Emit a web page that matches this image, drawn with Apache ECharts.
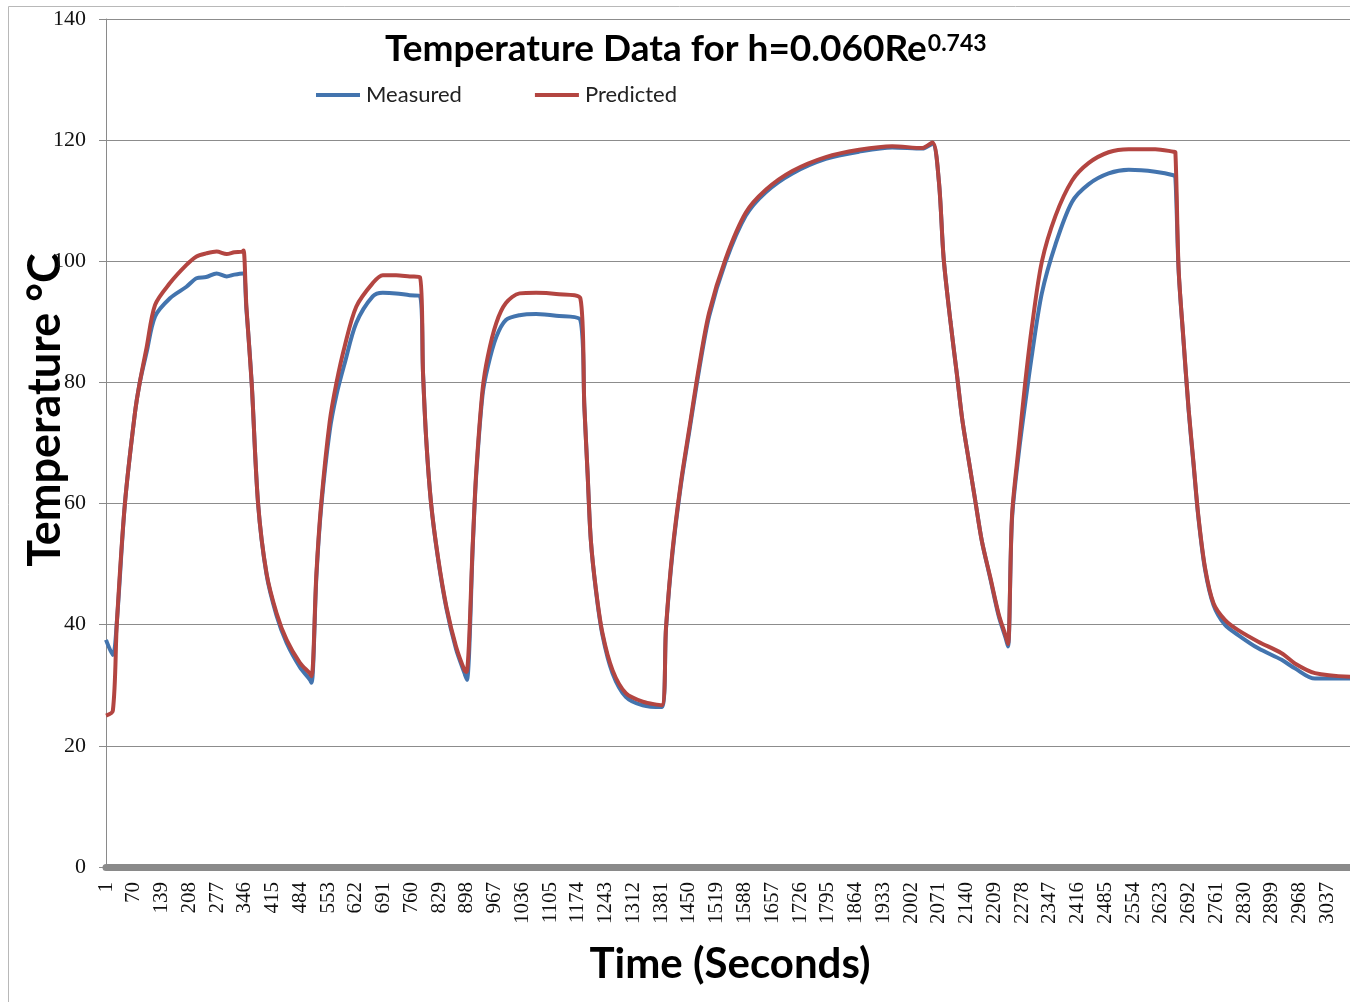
<!DOCTYPE html>
<html>
<head>
<meta charset="utf-8">
<script src="https://cdn.jsdelivr.net/npm/echarts@6/dist/echarts.min.js"></script>
<style>
html,body{margin:0;padding:0;background:#fff;}
#chart{width:1350px;height:1002px;}
</style>
</head>
<body>
<div id="chart"></div>
<script>
// number of one-second categories visible on the time axis
const categoryCount = 3093;
const categories = Array.from({length: categoryCount}, (_, i) => String(i + 1));

// Measured (seconds, °C)
const measuredT = [1, 18, 28, 48, 73, 85, 102, 123, 160, 201, 226, 250, 276, 301, 320, 341,
  350, 363, 379, 400, 425, 450, 483, 507, 512,
  524, 536, 557, 574, 594, 623, 664, 689, 722, 756, 781,
  789, 797, 809, 826, 847, 871, 892, 898,
  913, 921, 937, 950, 971, 995, 1029, 1070, 1120, 1180,
  1190, 1198, 1206, 1219, 1235, 1260, 1293, 1335, 1382,
  1393, 1409, 1430, 1451, 1475, 1500, 1541, 1591, 1641, 1707, 1790, 1873, 1955, 2030, 2055,
  2071, 2083, 2100, 2116, 2129, 2145, 2162, 2178, 2199, 2220, 2237, 2243,
  2253, 2270, 2286, 2303, 2327, 2361, 2402, 2443, 2493, 2543, 2609, 2654, 2659,
  2667, 2679, 2692, 2704, 2716, 2733, 2754, 2782, 2815, 2865, 2923, 2956, 3006, 3093];
const measuredV = [37.5, 35.0, 40.5, 60, 75, 80, 85.0, 90.9, 93.9, 95.8, 97.2, 97.4, 98.0, 97.5, 97.8, 98.0,
  92.0, 80, 60, 48.3, 41.5, 37.0, 33.0, 31.0, 30.4,
  48.0, 59.5, 72, 78, 83.1, 89.8, 94.2, 94.8, 94.7, 94.4, 94.3,
  81.5, 70.5, 60, 51, 42.7, 36, 32, 30.9,
  53.5, 64.5, 78, 82.6, 87.5, 90.3, 91.1, 91.3, 91.0, 90.3,
  76, 65, 54, 45.5, 38.3, 32, 28.1, 26.7, 26.4,
  39.4, 51.8, 63.1, 72.0, 82.0, 90.9, 99.9, 107.5, 111.4, 114.5, 116.9, 118.1, 118.8, 118.6, 119.4,
  113.3, 100.5, 90, 81.3, 74.0, 67.3, 60.3, 53.8, 47.6, 41.4, 37.8, 36.4,
  57.5, 68.5, 76.7, 84.8, 94.7, 102.8, 109.8, 112.7, 114.5, 115.1, 114.8, 114.2, 113.8,
  98.5, 87, 75.3, 66.5, 57.8, 49, 43.2, 40.0, 38.3, 36.1, 34.2, 32.8, 31.1, 31.1];

// Predicted (seconds, °C)
const predictedT = [1, 18, 28, 48, 73, 85, 102, 123, 160, 201, 226, 250, 276, 301, 320, 340, 343,
  350, 363, 379, 400, 425, 450, 483, 507, 512,
  524, 536, 557, 574, 594, 623, 664, 689, 722, 756, 781,
  789, 797, 809, 826, 847, 871, 892, 897,
  913, 921, 937, 950, 971, 995, 1029, 1070, 1120, 1180,
  1190, 1198, 1206, 1219, 1235, 1260, 1293, 1335, 1382,
  1393, 1409, 1430, 1451, 1475, 1500, 1541, 1591, 1641, 1707, 1790, 1873, 1955, 2030, 2055,
  2071, 2083, 2100, 2116, 2129, 2145, 2162, 2178, 2199, 2220, 2237, 2243,
  2253, 2270, 2286, 2303, 2327, 2361, 2402, 2443, 2493, 2543, 2609, 2654, 2659,
  2667, 2679, 2692, 2704, 2716, 2733, 2754, 2782, 2815, 2865, 2923, 2956, 3006, 3093];
const predictedV = [25.0, 25.8, 40.3, 60, 75, 80, 85.8, 92.8, 96.4, 99.4, 100.8, 101.3, 101.6, 101.2, 101.5, 101.6, 101.8,
  92.5, 80, 60, 48.5, 41.9, 37.5, 33.7, 32.0, 31.5,
  48.5, 60.1, 73.5, 80, 85.9, 92.5, 96.4, 97.7, 97.7, 97.5, 97.4,
  81.5, 70.5, 60, 51.2, 43, 36.4, 32.5, 32.2,
  54, 65, 78.8, 84.3, 89.8, 93.1, 94.7, 94.8, 94.6, 93.9,
  76, 65, 54, 45.7, 38.6, 32.5, 28.7, 27.3, 26.7,
  39.6, 52.2, 63.5, 72.5, 82.6, 91.5, 100.4, 108.0, 111.8, 114.9, 117.2, 118.4, 119.0, 118.7, 119.6,
  113.3, 100.5, 90, 81.3, 74.0, 67.3, 60.3, 53.8, 47.8, 41.7, 38.2, 36.8,
  58.1, 69.7, 80.1, 89.5, 99.9, 107.5, 113.3, 116.2, 118.0, 118.5, 118.5, 118.1, 118.0,
  98.8, 87.2, 75.5, 66.8, 58.0, 49.3, 43.5, 40.8, 39.1, 37.2, 35.3, 33.6, 32.0, 31.4];

const yTicks = {min: 0, max: 140, interval: 20};

const toPairs = (ts, vs) => ts.map((t, i) => [t - 1, vs[i]]);

const chart = echarts.init(document.getElementById('chart'), null, {renderer: 'canvas'});
const serif = 'Liberation Serif';
const sans = 'Lato';

chart.setOption({
  animation: false,
  backgroundColor: '#ffffff',
  title: {
    left: 385, top: 27, padding: 0,
    text: '{a|Temperature Data for h=0.060Re}{b|0.743}',
    textStyle: {
      rich: {
        a: {fontFamily: sans, fontWeight: 'bold', fontSize: 37, color: '#000', lineHeight: 44},
        b: {fontFamily: sans, fontWeight: 'bold', fontSize: 23, color: '#000', verticalAlign: 'top', lineHeight: 28, padding: [5, 0, 0, 1]}
      }
    }
  },
  legend: {
    left: 316, top: 84, padding: 0,
    itemWidth: 44, itemHeight: 4, itemGap: 73,
    icon: 'rect',
    textStyle: {fontFamily: sans, fontSize: 22, color: '#222', padding: [0, 0, 0, 1]},
    data: ['Measured', 'Predicted']
  },
  grid: {left: 106, right: 0, top: 19, bottom: 135},
  xAxis: {
    type: 'category',
    data: categories,
    boundaryGap: false,
    offset: 4,
    axisLine: {show: true, lineStyle: {color: '#8a8a8a', width: 7}},
    axisTick: {show: false},
    axisLabel: {interval: 68, rotate: 90, margin: 11, fontFamily: serif, fontSize: 21, color: '#111'},
    splitLine: {show: false}
  },
  yAxis: {
    type: 'value',
    min: yTicks.min, max: yTicks.max, interval: yTicks.interval,
    axisLine: {show: true, lineStyle: {color: '#8a8a8a', width: 1}},
    axisTick: {show: true, length: 7, lineStyle: {color: '#8a8a8a'}},
    axisLabel: {margin: 20, fontFamily: serif, fontSize: 22, color: '#111'},
    splitLine: {show: true, lineStyle: {color: '#8c8c8c', width: 1}}
  },
  graphic: [
    {type: 'rect', z: -10, silent: true,
      shape: {x: 8.5, y: 6.5, width: 1400, height: 1100},
      style: {fill: 'none', stroke: '#b8b8b8', lineWidth: 1}},
    {type: 'text', x: 45, y: 410, rotation: Math.PI / 2,
      style: {text: 'Temperature °C', fontFamily: sans, fontWeight: 'bold', fontSize: 45, fill: '#000',
        textAlign: 'center', textVerticalAlign: 'middle'}},
    {type: 'text', x: 730, y: 964,
      style: {text: 'Time (Seconds)', fontFamily: sans, fontWeight: 'bold', fontSize: 42, fill: '#000',
        textAlign: 'center', textVerticalAlign: 'middle'}}
  ],
  series: [
    {name: 'Measured', type: 'line', symbol: 'none', smooth: 0.3,
      data: toPairs(measuredT, measuredV),
      itemStyle: {color: '#4374AE'}, lineStyle: {color: '#4374AE', width: 4}, z: 2},
    {name: 'Predicted', type: 'line', symbol: 'none', smooth: 0.3,
      data: toPairs(predictedT, predictedV),
      itemStyle: {color: '#B34541'}, lineStyle: {color: '#B34541', width: 4}, z: 3}
  ]
});
</script>
</body>
</html>
